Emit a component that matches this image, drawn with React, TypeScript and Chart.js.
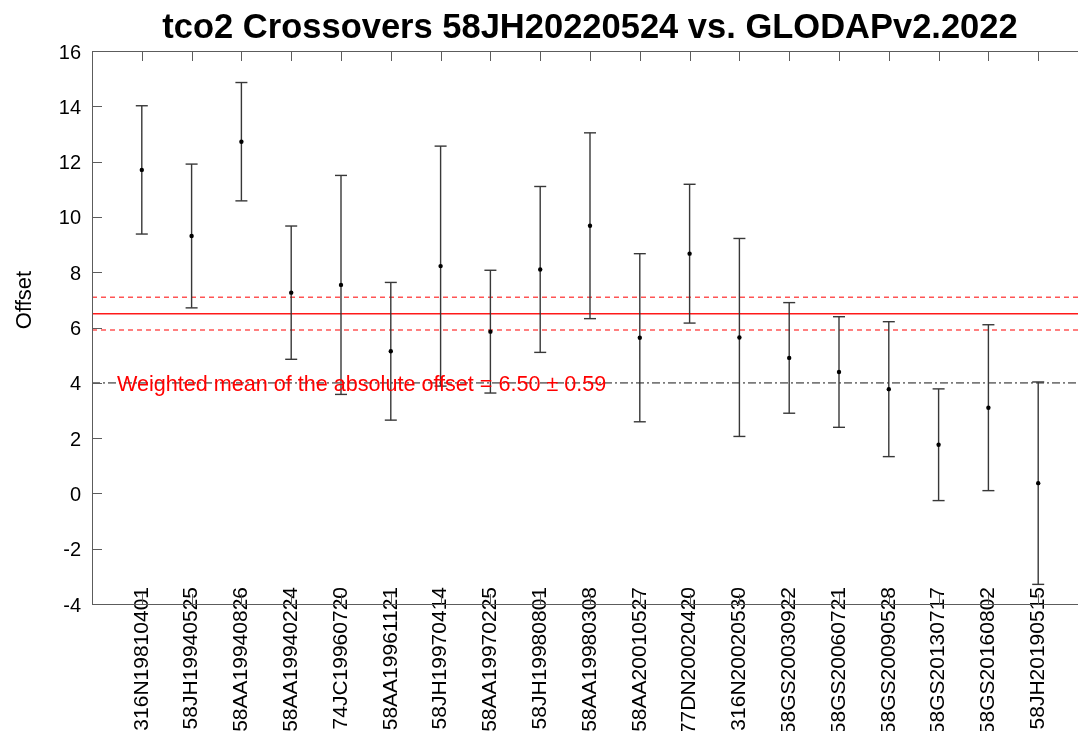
import React, { useEffect, useRef } from 'react';
import { Chart, registerables } from 'chart.js';

Chart.register(...registerables);

const TITLE = 'tco2 Crossovers 58JH20220524 vs. GLODAPv2.2022';
const Y_LABEL = 'Offset';

const CATEGORIES = [
  '316N19810401', '58JH19940525', '58AA19940826', '58AA19940224', '74JC19960720',
  '58AA19961121', '58JH19970414', '58AA19970225', '58JH19980801', '58AA19980308',
  '58AA20010527', '77DN20020420', '316N20020530', '58GS20030922', '58GS20060721',
  '58GS20090528', '58GS20130717', '58GS20160802', '58JH20190515',
];

const OFFSETS = [
  11.70, 9.31, 12.72, 7.26, 7.54, 5.14, 8.22, 5.85, 8.10, 9.68,
  5.63, 8.67, 5.64, 4.90, 4.39, 3.77, 1.76, 3.10, 0.37,
];

const ERRORS = [
  2.32, 2.60, 2.14, 2.41, 3.96, 2.49, 4.34, 2.22, 3.00, 3.36,
  3.04, 2.51, 3.58, 2.00, 2.00, 2.44, 2.02, 3.00, 3.66,
];

const MEAN_OFFSET = 6.5;
const MEAN_ERROR = 0.59;
const REFERENCE_LEVEL = 4;
const Y_MIN = -4;
const Y_MAX = 16;
const Y_STEP = 2;
const X_MIN = 0;
const X_MAX = CATEGORIES.length + 1;
const ANNOTATION_X = 0.5;
const ANNOTATION = `Weighted mean of the absolute offset = ${MEAN_OFFSET.toFixed(2)} \u00b1 ${MEAN_ERROR.toFixed(2)}`;

const FONT = "'Liberation Sans', Arial, Helvetica, sans-serif";
const AXIS_COLOR = '#5c5c5c';
const BAR_COLOR = '#383838';

const CANVAS_W = 1100;
const CANVAS_H = 731;

const framePlugin = {
  id: 'matlabFrame',
  afterDatasetsDraw(chart: any) {
    const { ctx, chartArea: a, scales } = chart;
    const x = scales.x;
    const y = scales.y;
    ctx.save();
    // annotation text
    ctx.fillStyle = '#ff0000';
    ctx.font = `21.6px ${FONT}`;
    ctx.textAlign = 'left';
    ctx.textBaseline = 'alphabetic';
    ctx.fillText(ANNOTATION, x.getPixelForValue(ANNOTATION_X), y.getPixelForValue(REFERENCE_LEVEL) + 8);

    // box
    ctx.strokeStyle = AXIS_COLOR;
    ctx.lineWidth = 1;
    ctx.beginPath();
    ctx.rect(Math.round(a.left) + 0.5, Math.round(a.top) + 0.5, Math.round(a.right - a.left), Math.round(a.bottom - a.top));
    ctx.stroke();

    // inward ticks
    const tl = 10;
    ctx.beginPath();
    for (let v = Y_MIN; v <= Y_MAX; v += Y_STEP) {
      const py = Math.round(y.getPixelForValue(v)) + 0.5;
      ctx.moveTo(a.left, py);
      ctx.lineTo(a.left + tl, py);
      ctx.moveTo(a.right, py);
      ctx.lineTo(a.right - tl, py);
    }
    CATEGORIES.forEach((_, i) => {
      const px = Math.round(x.getPixelForValue(i + 1)) + 0.5;
      ctx.moveTo(px, a.top);
      ctx.lineTo(px, a.top + tl);
      ctx.moveTo(px, a.bottom);
      ctx.lineTo(px, a.bottom - tl);
    });
    ctx.stroke();
    ctx.restore();
  },
  afterDraw(chart: any) {
    const { ctx, chartArea: a } = chart;
    ctx.save();
    ctx.fillStyle = '#000';
    ctx.font = `bold 34.5px ${FONT}`;
    ctx.textAlign = 'center';
    ctx.textBaseline = 'alphabetic';
    ctx.fillText(TITLE, (a.left + a.right) / 2, 37.5);

    ctx.font = `22px ${FONT}`;
    ctx.translate(31, 300);
    ctx.rotate(-Math.PI / 2);
    ctx.textAlign = 'center';
    ctx.fillText(Y_LABEL, 0, 0);
    ctx.restore();
  },
};

export default function App() {
  const canvasRef = useRef<HTMLCanvasElement | null>(null);

  useEffect(() => {
    const canvas = canvasRef.current;
    if (!canvas) return;

    const stems: any[] = [];
    const caps: any[] = [];
    const points: any[] = [];
    OFFSETS.forEach((v, i) => {
      const xv = i + 1;
      const e = ERRORS[i];
      stems.push({ x: xv, y: v - e }, { x: xv, y: v + e }, { x: xv, y: null });
      caps.push({ x: xv, y: v - e }, { x: xv, y: v + e });
      points.push({ x: xv, y: v });
    });

    const hLine = (val: number) => [
      { x: X_MIN, y: val },
      { x: X_MAX, y: val },
    ];

    const chart = new Chart(canvas, {
      type: 'scatter',
      data: {
        datasets: [
          {
            type: 'scatter',
            data: points,
            pointRadius: 2.2,
            pointBackgroundColor: '#000',
            pointBorderColor: '#000',
            pointBorderWidth: 0,
          },
          {
            type: 'scatter',
            data: caps,
            pointStyle: 'line',
            pointRadius: 6,
            pointBorderColor: BAR_COLOR,
            pointBorderWidth: 1.4,
          },
          {
            type: 'line',
            data: stems,
            borderColor: BAR_COLOR,
            borderWidth: 1.4,
            pointRadius: 0,
            spanGaps: false,
            fill: false,
          },
          {
            type: 'line',
            data: hLine(MEAN_OFFSET),
            borderColor: '#ff1a1a',
            borderWidth: 1.5,
            pointRadius: 0,
            fill: false,
          },
          {
            type: 'line',
            data: hLine(MEAN_OFFSET + MEAN_ERROR),
            borderColor: '#ff5555',
            borderWidth: 1.5,
            borderDash: [5, 4],
            pointRadius: 0,
            fill: false,
          },
          {
            type: 'line',
            data: hLine(MEAN_OFFSET - MEAN_ERROR),
            borderColor: '#ff5555',
            borderWidth: 1.5,
            borderDash: [5, 4],
            pointRadius: 0,
            fill: false,
          },
          {
            type: 'line',
            data: hLine(REFERENCE_LEVEL),
            borderColor: '#7a7a7a',
            borderWidth: 1.8,
            borderDash: [8, 3, 2, 3],
            pointRadius: 0,
            fill: false,
          },
        ],
      } as any,
      options: {
        animation: false,
        responsive: false,
        devicePixelRatio: 1,
        layout: { padding: { left: 0, right: 12, top: 51, bottom: 0 } },
        plugins: {
          legend: { display: false },
          title: { display: false },
          tooltip: { enabled: false },
        },
        scales: {
          x: {
            type: 'linear',
            min: X_MIN,
            max: X_MAX,
            afterBuildTicks: (scale: any) => {
              scale.ticks = CATEGORIES.map((_, i) => ({ value: i + 1 }));
            },
            afterFit: (scale: any) => {
              scale.height = CANVAS_H - 604;
              // let the rotated labels overlap the axis line, as in the original
              scale._computeLabelArea = () => undefined;
            },
            ticks: {
              autoSkip: false,
              minRotation: 90,
              maxRotation: 90,
              padding: -17,
              color: '#000',
              font: { family: FONT, size: 21 },
              callback: (value: any) => CATEGORIES[Number(value) - 1] ?? '',
            },
            grid: { display: false, drawTicks: false },
            border: { display: false },
          },
          y: {
            type: 'linear',
            min: Y_MIN,
            max: Y_MAX,
            afterFit: (scale: any) => {
              scale.width = 92;
            },
            ticks: {
              stepSize: Y_STEP,
              padding: 11,
              labelOffset: 2,
              color: '#000',
              font: { family: FONT, size: 20 },
            },
            grid: { display: false, drawTicks: false },
            border: { display: false },
          },
        },
      } as any,
      plugins: [framePlugin],
    });

    return () => {
      chart.destroy();
    };
  }, []);

  return (
    <div
      style={{
        position: 'fixed',
        left: 0,
        top: 0,
        width: 1078,
        height: 731,
        overflow: 'hidden',
        background: '#fff',
      }}
    >
      <canvas
        ref={canvasRef}
        width={CANVAS_W}
        height={CANVAS_H}
        style={{ width: CANVAS_W, height: CANVAS_H, display: 'block' }}
      />
    </div>
  );
}
